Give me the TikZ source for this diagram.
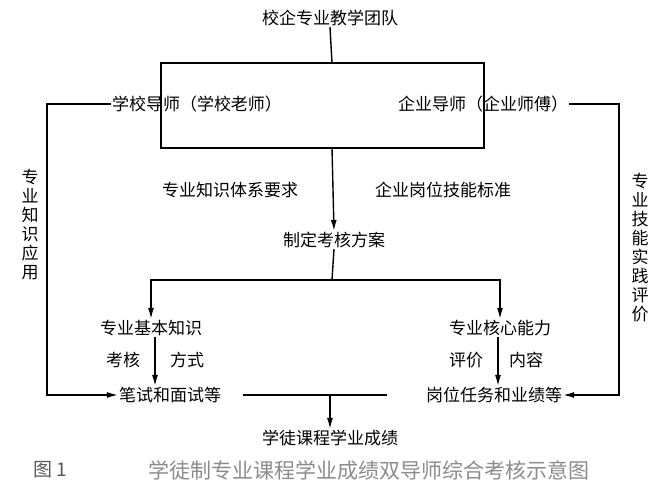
\documentclass[tikz,border=0pt]{standalone}
\usepackage{fontspec}
\setmainfont{Noto Sans CJK SC}
\usetikzlibrary{arrows.meta}
\begin{document}
\begin{tikzpicture}[x=1pt,y=-1pt,
  t/.style={inner sep=1pt,font=\fontsize{17}{19}\selectfont},
  ln/.style={line width=1.4pt},
  ar/.style={ln,-{Latex[length=11pt,width=6pt]}}]
\useasboundingbox[fill=white] (0,0) rectangle (665,500);
\node[t] (top) at (330,18) {校企专业教学团队};
\node[t] (sch) at (197,104) {学校导师（学校老师）};
\node[t] (ent) at (483,104) {企业导师（企业师傅）};
\coordinate (rt) at (332,63);
\coordinate (rb) at (332,148);
\draw[ln] (161,63) rectangle (484,148);
\draw[ln] (top.south) -- (rt);
\node[t] (plan) at (334,240) {制定考核方案};
\draw[ar] (rb) -- (plan.north);
\node[t] (k1) at (230,190) {专业知识体系要求};
\node[t] (k2) at (443,190) {企业岗位技能标准};
\node[t,align=center] (vl) at (30,225) {专\\业\\知\\识\\应\\用};
\node[t,align=center] (vr) at (640,248) {专\\业\\技\\能\\实\\践\\评\\价};
\coordinate (br) at (332,280);
\draw[ln] (plan.south) -- (br);
\node[t] (a) at (151,328) {专业基本知识};
\node[t] (b) at (500,328) {专业核心能力};
\draw[ar] (br) -| (a.north);
\draw[ar] (br) -| (b.north);
\node[t] (c) at (170,395) {笔试和面试等};
\node[t] (d) at (494,395) {岗位任务和业绩等};
\draw[ar] (a.south -| 155,0) -- (c.north -| 155,0);
\draw[ar] (b.south -| 498,0) -- (d.north -| 498,0);
\node[t] at (123,360) {考核};
\node[t] at (187,360) {方式};
\node[t] at (466,360) {评价};
\node[t] at (526,360) {内容};
\draw[ar] (sch.west) -- (47,104) |- (c.west);
\draw[ar] (ent.east) -- (619,104) |- (d.east);
\node[t] (e) at (330,438) {学徒课程学业成绩};
\coordinate (m) at (330,395);
\draw[ln] (243,395) -- (387,395);
\draw[ar] (m) -- (e.north);
\node[font=\fontsize{19}{21}\selectfont,text=black!65] at (50,470) {图 1};
\node[font=\fontsize{21}{23}\selectfont,text=black!45] at (369,470) {学徒制专业课程学业成绩双导师综合考核示意图};
\end{tikzpicture}
\end{document}
